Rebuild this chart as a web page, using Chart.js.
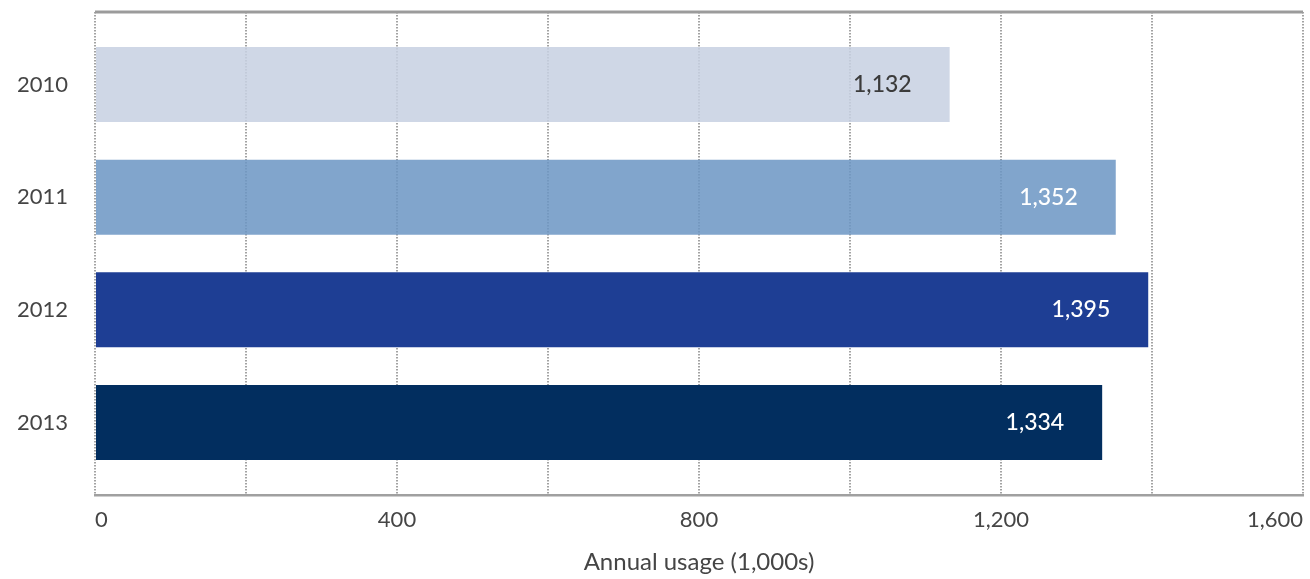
<!DOCTYPE html>
<html>
<head>
<meta charset="utf-8">
<script src="https://cdn.jsdelivr.net/npm/chart.js@4/dist/chart.umd.min.js"></script>
<style>
  html, body { margin: 0; padding: 0; background: #ffffff; }
  #wrap { width: 1310px; height: 579px; position: relative; }
</style>
</head>
<body>
<div id="wrap"><canvas id="usage"></canvas></div>
<script>
// Annual usage per year, in thousands
const years = ['2010', '2011', '2012', '2013'];
const usage = [1132, 1352, 1395, 1334];
const xTicksShown = [0, 400, 800, 1200, 1600];

// Bar fills (the lighter two let the dotted grid show through)
const barFills = ['rgba(199,209,226,0.86)', 'rgba(108,150,196,0.86)', '#1e3e94', '#022e5f'];
const valueInk = ['#3b3b3b', '#ffffff', '#ffffff', '#ffffff'];

const FONT = 'Lato, "Open Sans", sans-serif';
const fmt = v => v.toLocaleString('en-US');

// Solid rule along the top of the plot area
const topRule = {
  id: 'topRule',
  afterDraw(chart) {
    const { ctx, chartArea } = chart;
    ctx.save();
    ctx.strokeStyle = '#9b9b9b';
    ctx.lineWidth = 3;
    ctx.beginPath();
    ctx.moveTo(chartArea.left, chartArea.top);
    ctx.lineTo(chartArea.right, chartArea.top);
    ctx.stroke();
    ctx.restore();
  }
};

// Value printed inside the end of each bar
const barValues = {
  id: 'barValues',
  afterDatasetsDraw(chart) {
    const { ctx } = chart;
    const meta = chart.getDatasetMeta(0);
    ctx.save();
    ctx.font = '500 23px ' + FONT;
    ctx.textAlign = 'right';
    ctx.textBaseline = 'middle';
    meta.data.forEach((bar, i) => {
      ctx.fillStyle = valueInk[i];
      ctx.fillText(fmt(usage[i]), bar.x - 38, bar.y);
    });
    ctx.restore();
  }
};

new Chart(document.getElementById('usage'), {
  type: 'bar',
  data: {
    datasets: [{
      data: usage.map((v, i) => ({ x: v, y: i })),
      backgroundColor: barFills,
      borderWidth: 0,
      categoryPercentage: 1,
      barPercentage: 0.666
    }]
  },
  options: {
    indexAxis: 'y',
    responsive: true,
    maintainAspectRatio: false,
    animation: false,
    layout: { padding: { top: 12, right: 7, bottom: 0, left: 0 } },
    plugins: { legend: { display: false }, tooltip: { enabled: false } },
    scales: {
      x: {
        type: 'linear',
        min: 0,
        max: 1600,
        afterFit(scale) {
          scale.height = 84;
          scale.paddingLeft = 0;
          scale.paddingRight = 0;
        },
        ticks: {
          stepSize: 200,
          autoSkip: false,
          maxRotation: 0,
          align: 'inner',
          padding: 12,
          color: '#454545',
          font: { family: FONT, size: 22 },
          callback: v => (xTicksShown.includes(v) ? fmt(v) : '')
        },
        grid: {
          color: '#a3a3a3',
          lineWidth: 2,
          drawTicks: false
        },
        border: { display: true, color: '#a0a0a0', width: 2.5, dash: [1.5, 1.5] },
        title: {
          display: true,
          text: 'Annual usage (1,000s)',
          color: '#454545',
          font: { family: FONT, size: 24 },
          padding: { top: 0, bottom: 2 }
        }
      },
      y: {
        type: 'linear',
        reverse: true,
        offset: false,
        min: -0.643,
        max: 3.643,
        afterFit(scale) {
          scale.width = 95;
          scale.paddingTop = 0;
          scale.paddingBottom = 0;
        },
        afterBuildTicks(scale) {
          scale.ticks = years.map((_, i) => ({ value: i }));
        },
        ticks: {
          padding: 27,
          color: '#454545',
          font: { family: FONT, size: 22 },
          callback: v => years[v]
        },
        grid: { display: false, drawTicks: false },
        border: { display: false }
      }
    }
  },
  plugins: [topRule, barValues]
});
</script>
</body>
</html>
